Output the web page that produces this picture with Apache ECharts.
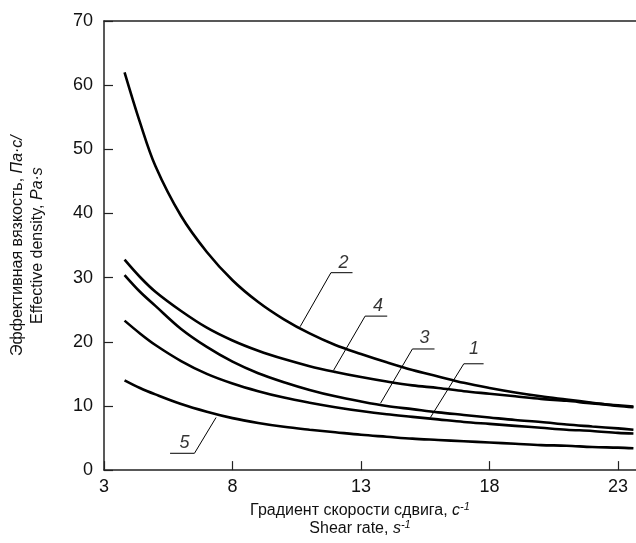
<!DOCTYPE html>
<html><head><meta charset="utf-8">
<script src="https://cdn.jsdelivr.net/npm/echarts@6/dist/echarts.min.js"></script>
<style>html,body{margin:0;padding:0;background:#fff}#c{width:636px;height:543px}</style>
</head><body><div id="c"></div>
<script>
// ---- data ----
const shearRate = [3.8,4.4,5,6,7,8,9,10,11,12,13,14,15,16,17,18,19,20,21,22,23,23.6];
const curve1 = [23.3,21.3,19.5,17.0,15.0,13.5,12.3,11.3,10.5,9.8,9.2,8.7,8.3,7.9,7.5,7.2,6.9,6.6,6.3,6.1,5.8,5.7];
const curve2 = [62.0,54.2,47.4,39.6,34.0,29.6,26.2,23.5,21.3,19.5,18.1,16.8,15.6,14.6,13.6,12.8,12.1,11.5,11.0,10.5,10.0,9.8];
const curve3 = [30.4,27.8,25.6,22.0,19.2,16.9,15.1,13.7,12.5,11.5,10.7,10.0,9.5,9.0,8.6,8.2,7.8,7.5,7.1,6.8,6.5,6.3];
const curve4 = [32.8,30.1,27.8,24.8,22.2,20.2,18.6,17.3,16.2,15.3,14.5,13.8,13.2,12.8,12.3,11.9,11.5,11.1,10.8,10.4,10.1,9.9];
const curve5 = [14.0,12.8,11.8,10.3,9.1,8.1,7.35,6.75,6.3,5.9,5.5,5.2,4.9,4.7,4.5,4.3,4.1,3.9,3.8,3.6,3.5,3.4];
const curveNames = ['1','2','3','4','5'];
const xTicks = [3,8,13,18,23];
const yTicks = [0,10,20,30,40,50,60,70];

// ---- annotation geometry (data units) ----
const annotations = [
  {text:'2', at:[12.32,32.3], path:[[12.67,30.77],[11.83,30.77],[10.63,22.35]]},
  {text:'4', at:[13.66,25.5], path:[[14.02,24.0],[13.16,24.0],[11.93,15.54]]},
  {text:'3', at:[15.47,20.66], path:[[15.86,18.88],[15.0,18.88],[13.76,10.42]]},
  {text:'1', at:[17.4,18.8], path:[[17.77,16.57],[17.0,16.57],[15.7,8.2]]},
  {text:'5', at:[6.13,4.26], path:[[5.57,2.62],[6.52,2.62],[7.36,8.2]]}
];

const FONT = "'Liberation Sans', Arial, sans-serif";
const curves = [curve1, curve2, curve3, curve4, curve5];
const series = [];
curves.forEach((c, i) => {
  series.push({
    name: curveNames[i], type: 'line', smooth: 0.35,
    symbol: 'none', silent: true,
    lineStyle: {color: '#000', width: 2.6},
    data: shearRate.map((x, j) => [x, c[j]])
  });
});
annotations.forEach(a => {
  series.push({
    type: 'line', symbol: 'none', silent: true,
    lineStyle: {color: '#000', width: 1},
    data: a.path
  });
  series.push({
    type: 'scatter', symbolSize: 0, silent: true,
    data: [a.at],
    label: {show: true, position: 'inside', formatter: a.text,
      fontFamily: FONT, fontStyle: 'italic', fontSize: 18, color: '#000'}
  });
});

const chart = echarts.init(document.getElementById('c'), null, {renderer: 'canvas'});
chart.setOption({
  animation: false,
  backgroundColor: '#fff',
  grid: {left: 102.7, right: 0, top: 21, bottom: 67},
  xAxis: [{
    type: 'value', min: 3, max: 23.7, interval: 5,
    splitLine: {show: false},
    axisLine: {lineStyle: {color: '#222', width: 1.5}},
    axisTick: {inside: true, length: 9, customValues: xTicks, lineStyle: {color: '#222', width: 1.2}},
    axisLabel: {customValues: xTicks, fontFamily: FONT, fontSize: 18, color: '#111', margin: 8},
    name: '{a|Градиент скорости сдвига, }{i|c}{sup|-1}\n{a|Shear rate, }{i|s}{sup|-1}',
    nameLocation: 'middle', nameGap: 31,
    nameTextStyle: {
      fontFamily: FONT, fontSize: 16, color: '#111', lineHeight: 18, padding: [0, 20, 0, 0],
      rich: {
        a: {fontFamily: FONT, fontSize: 16, color: '#111', lineHeight: 18},
        i: {fontFamily: FONT, fontSize: 16, color: '#111', fontStyle: 'italic', lineHeight: 18},
        sup: {fontFamily: FONT, fontSize: 11, color: '#111', fontStyle: 'italic', lineHeight: 18, padding: [0,0,8,0]}
      }
    }
  }, {
    type: 'value', min: 3, max: 23.7, position: 'top',
    axisLine: {show: true, lineStyle: {color: '#222', width: 1.5}},
    axisTick: {show: false}, axisLabel: {show: false}, splitLine: {show: false}
  }],
  yAxis: {
    type: 'value', min: 0, max: 70, interval: 10,
    splitLine: {show: false},
    axisLine: {show: true, lineStyle: {color: '#222', width: 1.5}},
    axisTick: {show: true, inside: true, length: 9, customValues: yTicks, lineStyle: {color: '#222', width: 1.2}},
    axisLabel: {customValues: yTicks, fontFamily: FONT, fontSize: 18, color: '#111', margin: 11},
    name: '{a|Эффективная вязкость, }{i|Па·с/}\n{a|Effective density, }{i|Pa·s}',
    nameLocation: 'middle', nameGap: 56, nameRotate: 90,
    nameTextStyle: {
      fontFamily: FONT, fontSize: 16, color: '#111', lineHeight: 20,
      rich: {
        a: {fontFamily: FONT, fontSize: 16, color: '#111', lineHeight: 20},
        i: {fontFamily: FONT, fontSize: 16, color: '#111', fontStyle: 'italic', lineHeight: 20}
      }
    }
  },
  series: series
});
</script></body></html>
